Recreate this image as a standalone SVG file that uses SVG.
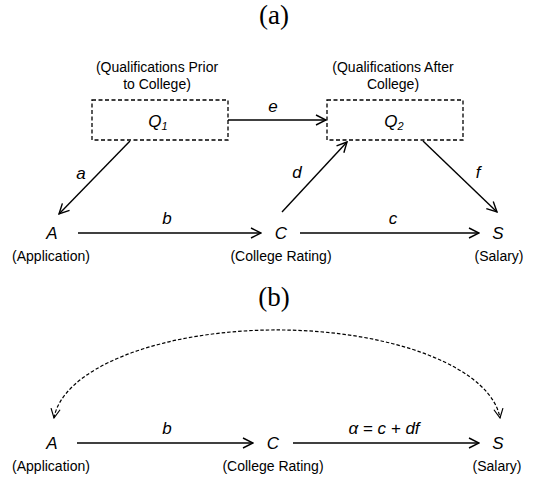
<svg xmlns="http://www.w3.org/2000/svg" width="548" height="480" viewBox="0 0 548 480">
<defs>
<marker id="arr" viewBox="0 0 12 12" refX="11" refY="6" markerWidth="12" markerHeight="12" markerUnits="userSpaceOnUse" orient="auto">
<path d="M1,1 L11,6 L1,11" fill="none" stroke="#000" stroke-width="1.4"/>
</marker>
<marker id="arrd" viewBox="0 0 12 12" refX="11" refY="6" markerWidth="11" markerHeight="11" markerUnits="userSpaceOnUse" orient="auto-start-reverse">
<path d="M1,1 L11,6 L1,11" fill="none" stroke="#000" stroke-width="1.3"/>
</marker>
</defs>
<style>
.title{font-family:"Liberation Serif",serif;font-size:27px;fill:#000;text-anchor:middle}
.lbl{font-family:"Liberation Sans",Arial,sans-serif;font-size:14px;fill:#000;text-anchor:middle}
.var{font-family:"Liberation Sans",Arial,sans-serif;font-size:17px;font-style:italic;fill:#000;text-anchor:middle}
.edge{font-family:"Liberation Sans",Arial,sans-serif;font-size:17px;font-style:italic;fill:#000;text-anchor:middle}
.box{fill:#fff;stroke:#000;stroke-width:1.3;stroke-dasharray:4,2.5}
.ln{fill:none;stroke:#000;stroke-width:1.4;marker-end:url(#arr)}
.dl{fill:none;stroke:#000;stroke-width:1.2;stroke-dasharray:3.5,2}
</style>
<rect width="548" height="480" fill="#fff"/>
<text class="title" x="274" y="24">(a)</text>
<text class="title" x="274" y="306">(b)</text>

<g id="connectors">
<line class="ln" x1="228" y1="120" x2="326" y2="120"/>
<line class="ln" x1="130" y1="141" x2="59" y2="214"/>
<line class="ln" x1="282" y1="212" x2="347" y2="142"/>
<line class="ln" x1="423" y1="141" x2="497" y2="212"/>
<line class="ln" x1="78" y1="233" x2="261" y2="233"/>
<line class="ln" x1="300" y1="233" x2="479" y2="233"/>
<line class="ln" x1="77" y1="443" x2="253" y2="443"/>
<line class="ln" x1="293" y1="443" x2="479" y2="443"/>
<path class="dl" d="M54,418 A223.6,95 0 0 1 500,418" marker-start="url(#arrd)" marker-end="url(#arrd)"/>
<text class="edge" x="273" y="112">e</text>
<text class="edge" x="81" y="179">a</text>
<text class="edge" x="297" y="178">d</text>
<text class="edge" x="478" y="178">f</text>
<text class="edge" x="167" y="224">b</text>
<text class="edge" x="393" y="224">c</text>
<text class="edge" x="167" y="434">b</text>
<text class="edge" x="384" y="434">α = c + df</text>
</g>

<g id="Q1">
<rect class="box" x="92" y="100" width="136" height="40"/>
<text class="lbl" x="157" y="72">(Qualifications Prior</text>
<text class="lbl" x="157" y="89">to College)</text>
<text class="var" x="158" y="127">Q<tspan font-size="11" dy="3">1</tspan></text>
</g>
<g id="Q2">
<rect class="box" x="327" y="100" width="136" height="40"/>
<text class="lbl" x="393" y="72">(Qualifications After</text>
<text class="lbl" x="393" y="89">College)</text>
<text class="var" x="394" y="127">Q<tspan font-size="11" dy="3">2</tspan></text>
</g>
<g id="A_a">
<text class="var" x="52" y="239">A</text>
<text class="lbl" x="51" y="261">(Application)</text>
</g>
<g id="C_a">
<text class="var" x="281" y="239">C</text>
<text class="lbl" x="281" y="261">(College Rating)</text>
</g>
<g id="S_a">
<text class="var" x="498" y="239">S</text>
<text class="lbl" x="499" y="261">(Salary)</text>
</g>
<g id="A_b">
<text class="var" x="52" y="449">A</text>
<text class="lbl" x="51" y="471">(Application)</text>
</g>
<g id="C_b">
<text class="var" x="273" y="449">C</text>
<text class="lbl" x="273" y="471">(College Rating)</text>
</g>
<g id="S_b">
<text class="var" x="498" y="449">S</text>
<text class="lbl" x="497" y="471">(Salary)</text>
</g>
</svg>
